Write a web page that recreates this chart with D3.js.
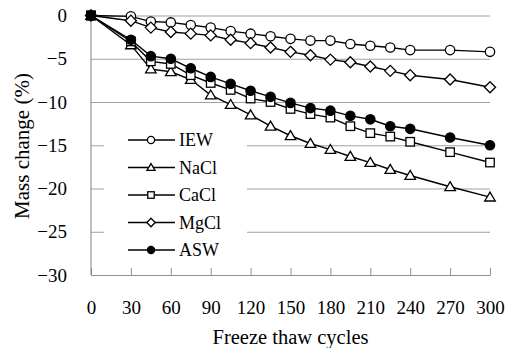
<!DOCTYPE html>
<html>
<head>
<meta charset="utf-8">
<script src="https://cdn.jsdelivr.net/npm/d3@7"></script>
<style>
  body { margin: 0; background: #fff; }
  svg { display: block; font-family: "Liberation Serif", "Times New Roman", serif; }
</style>
</head>
<body>
<svg id="chart" width="513" height="348"></svg>
<script>
// data
const cycles = [0, 30, 45, 60, 75, 90, 105, 120, 135, 150, 165, 180, 195, 210, 225, 240, 270, 300];
const iew  = [0, -0.1, -0.7, -0.8, -1.1, -1.4, -1.8, -2.1, -2.4, -2.7, -2.9, -2.9, -3.3, -3.5, -3.7, -4.0, -4.0, -4.2];
const nacl = [0, -3.4, -6.2, -6.5, -7.4, -9.2, -10.3, -11.5, -12.8, -13.9, -14.8, -15.5, -16.3, -17.0, -17.8, -18.5, -19.8, -21.0];
const cacl = [0, -3.0, -5.3, -5.6, -6.9, -7.8, -8.6, -9.6, -10.0, -10.8, -11.4, -11.8, -12.8, -13.6, -14.0, -14.6, -15.8, -17.0];
const mgcl = [0, -0.6, -1.4, -1.9, -2.1, -2.3, -2.8, -3.2, -3.7, -4.2, -4.6, -5.1, -5.4, -5.9, -6.4, -6.9, -7.4, -8.3];
const asw  = [0, -2.8, -4.7, -5.0, -6.1, -7.1, -7.9, -8.7, -9.4, -10.1, -10.7, -11.0, -11.6, -12.0, -12.8, -13.1, -14.1, -15.0];
const seriesNames = ["IEW", "NaCl", "CaCl", "MgCl", "ASW"];
const seriesValues = [iew, nacl, cacl, mgcl, asw];
const seriesMarkers = ["circle", "triangle", "square", "diamond", "dot"];
const xTicks = [0, 30, 60, 90, 120, 150, 180, 210, 240, 270, 300];
const yTicks = [0, -5, -10, -15, -20, -25, -30];

let svg = d3.select("#chart");

let x = d3.scaleLinear().domain([0, 300]).range([91, 490]);
let y = d3.scaleLinear().domain([-30, 0]).range([275, 15.5]);

// gridlines + y labels
let yAxis = svg.append("g")
    .attr("transform", "translate(91,0)")
    .call(d3.axisLeft(y).tickValues(yTicks).tickSizeInner(-(490 - 91)).tickSizeOuter(0).tickPadding(24));
yAxis.select(".domain").remove();
yAxis.selectAll(".tick line").attr("stroke", "#a0a0a0").attr("stroke-width", 1);
yAxis.selectAll(".tick text")
    .attr("fill", "#000")
    .style("font-size", "19px")
    .style("font-family", "Liberation Serif");

// bottom axis with inward ticks
let xAxis = svg.append("g")
    .attr("transform", "translate(0,275)")
    .call(d3.axisBottom(x).tickValues(xTicks).tickSizeInner(-7).tickSizeOuter(0).tickPadding(26));
xAxis.select(".domain").attr("stroke", "#909090");
xAxis.selectAll(".tick line").attr("stroke", "#909090");
xAxis.selectAll(".tick text")
    .attr("fill", "#000")
    .style("font-size", "19px")
    .style("font-family", "Liberation Serif");

// left axis line
svg.append("line")
    .attr("x1", x(0)).attr("x2", x(0))
    .attr("y1", y(0)).attr("y2", y(-30))
    .attr("stroke", "#808080");

// axis titles
svg.append("text")
    .attr("x", (x(0) + x(300)) / 2)
    .attr("y", 344)
    .attr("text-anchor", "middle")
    .style("font-size", "20.5px")
    .text("Freeze thaw cycles");

svg.append("text")
    .attr("transform", "translate(22," + 146 + ") rotate(-90)")
    .attr("text-anchor", "middle")
    .attr("dominant-baseline", "central")
    .style("font-size", "21px")
    .text("Mass change (%)");

// legend background hides the gridlines
svg.append("rect")
    .attr("x", 104).attr("y", 128)
    .attr("width", 143).attr("height", 134)
    .attr("fill", "#fff");

// marker drawing
function marker(g, type, cx, cy, s) {
    let fill = type === "dot" ? "#000" : "#fff";
    let el;
    if (type === "circle" || type === "dot") {
        el = g.append("circle").attr("cx", cx).attr("cy", cy).attr("r", s * 0.55);
    } else if (type === "square") {
        el = g.append("rect").attr("x", cx - s * 0.5).attr("y", cy - s * 0.5)
            .attr("width", s).attr("height", s);
    } else if (type === "triangle") {
        let h = s * 1.0;
        el = g.append("path").attr("d",
            "M" + cx + "," + (cy - h * 0.6) +
            "L" + (cx + s * 0.62) + "," + (cy + h * 0.45) +
            "L" + (cx - s * 0.62) + "," + (cy + h * 0.45) + "Z");
    } else {
        el = g.append("path").attr("d",
            "M" + cx + "," + (cy - s * 0.65) +
            "L" + (cx + s * 0.65) + "," + cy +
            "L" + cx + "," + (cy + s * 0.65) +
            "L" + (cx - s * 0.65) + "," + cy + "Z");
    }
    el.attr("fill", fill).attr("stroke", "#000").attr("stroke-width", 1.3);
}

let line = d3.line()
    .x(function (d) { return x(d[0]); })
    .y(function (d) { return y(d[1]); });

let plot = svg.append("g");

seriesValues.forEach(function (vals, i) {
    let pts = cycles.map(function (c, j) { return [c, vals[j]]; });
    let g = plot.append("g");
    g.append("path")
        .attr("d", line(pts))
        .attr("fill", "none")
        .attr("stroke", "#000")
        .attr("stroke-width", 1.4);
    pts.forEach(function (p) {
        marker(g, seriesMarkers[i], x(p[0]), y(p[1]), 8.5);
    });
});

// overlapping markers at the origin render as a solid block in the reference
plot.append("rect")
    .attr("x", x(0) - 5).attr("y", y(0) - 5)
    .attr("width", 10).attr("height", 10)
    .attr("fill", "#000");

// legend
let legend = svg.append("g");
seriesNames.forEach(function (name, i) {
    let ly = 140 + i * 27.5;
    legend.append("line")
        .attr("x1", 128).attr("x2", 175)
        .attr("y1", ly).attr("y2", ly)
        .attr("stroke", "#000").attr("stroke-width", 1.4);
    marker(legend, seriesMarkers[i], 151, ly, 6.5);
    legend.append("text")
        .attr("x", 179)
        .attr("y", ly + 6)
        .style("font-size", "18px")
        .text(name);
});
</script>
</body>
</html>
